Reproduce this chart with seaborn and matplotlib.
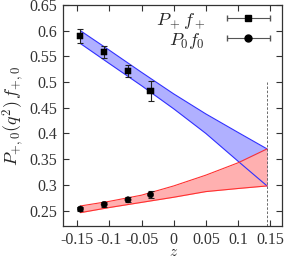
import numpy as np
import pandas as pd
import matplotlib
matplotlib.use("Agg")
import matplotlib.pyplot as plt
from matplotlib.lines import Line2D
from matplotlib.legend_handler import HandlerLine2D, HandlerTuple
import seaborn as sns

## datos
z_pts = [-0.145, -0.108, -0.071, -0.036]
fplus = [0.590, 0.558, 0.521, 0.483]
fplus_err = [0.014, 0.012, 0.012, 0.019]
fzero = [0.253, 0.262, 0.271, 0.281]
fzero_err = [0.004, 0.005, 0.005, 0.007]

z_band = [-0.145, -0.1, -0.05, 0.0, 0.05, 0.1, 0.145]
plus_hi = [0.600, 0.562, 0.519, 0.477, 0.438, 0.402, 0.370]
plus_lo = [0.575, 0.536, 0.493, 0.448, 0.400, 0.346, 0.298]
zero_hi = [0.259, 0.268, 0.280, 0.298, 0.319, 0.343, 0.370]
zero_lo = [0.246, 0.256, 0.266, 0.276, 0.287, 0.293, 0.298]
z_max = 0.145

sns.set_style("ticks")
plt.rcParams['font.family'] = ['Liberation Serif', 'DejaVu Serif']
plt.rcParams['mathtext.fontset'] = 'cm'
plt.rcParams['font.size'] = 12

fig = plt.figure(figsize=(2.85, 2.61), dpi=100)
ax = fig.add_axes([0.221, 0.134, 0.768, 0.847])

# bandas
ax.fill_between(z_band, plus_lo, plus_hi, color='#b0b0ff', lw=0)
ax.plot(z_band, plus_hi, color='#3030ff', lw=0.8)
ax.plot(z_band, plus_lo, color='#3030ff', lw=0.8)
ax.fill_between(z_band, zero_lo, zero_hi, color='#ffb0b0', lw=0)
ax.plot(z_band, zero_hi, color='#ff3030', lw=0.8)
ax.plot(z_band, zero_lo, color='#ff3030', lw=0.8)

ax.vlines(z_max, 0.22, 0.50, colors='#555555', linestyles=(0, (3, 2)), lw=0.6)

# puntos
df = pd.DataFrame({"z": z_pts * 2, "val": fplus + fzero,
                   "serie": ["plus"] * 4 + ["zero"] * 4})
ax.errorbar(z_pts, fplus, yerr=fplus_err, fmt='none', ecolor='#222222', elinewidth=0.8, capsize=2, capthick=0.8)
ax.errorbar(z_pts, fzero, yerr=fzero_err, fmt='none', ecolor='#222222', elinewidth=0.8, capsize=2, capthick=0.8)
sns.scatterplot(data=df, x="z", y="val", style="serie", markers={"plus": "s", "zero": "o"},
                color='black', s=20, edgecolor='black', legend=False, ax=ax, zorder=5)

ax.set_xlim(-0.172, 0.168)
ax.set_ylim(0.22, 0.65)
ax.set_xticks([-0.15, -0.1, -0.05, 0, 0.05, 0.1, 0.15])
ax.set_xticklabels(['-0.15', '-0.1', '-0.05', '0', '0.05', '0.1', '0.15'])
ax.set_yticks([0.25, 0.3, 0.35, 0.4, 0.45, 0.5, 0.55, 0.6, 0.65])
ax.set_yticklabels(['0.25', '0.3', '0.35', '0.4', '0.45', '0.5', '0.55', '0.6', '0.65'])
ax.tick_params(direction='in', top=True, right=True, length=4, width=0.8, pad=4,
               labelsize=11.5, colors='#333333', labelcolor='#333333')
for s in ax.spines.values():
    s.set_color('#333333')
    s.set_linewidth(0.9)

ax.set_xlabel('$z$', fontsize=11, va='center')
ax.xaxis.set_label_coords(0.507, -0.122)
ax.set_ylabel('$P_{+,0}(q^2)\\,f_{+,0}$', fontsize=13)
ax.yaxis.set_label_coords(-0.165, 0.5)

# leyenda estilo gnuplot: barra horizontal con topes
cap1 = Line2D([], [], color='#555555', lw=0.8, marker='|', markersize=5)
cap2 = Line2D([], [], color='#555555', lw=0.8, marker='|', markersize=5)
h1 = Line2D([], [], color='black', lw=0, marker='s', markersize=5)
h2 = Line2D([], [], color='black', lw=0, marker='o', markersize=5)
hm = {cap1: HandlerLine2D(numpoints=2), cap2: HandlerLine2D(numpoints=2),
      h1: HandlerLine2D(numpoints=1), h2: HandlerLine2D(numpoints=1)}
hm[tuple] = HandlerTuple(ndivide=1, pad=0)
ax.legend([(cap1, h1), (cap2, h2)], ['$P_+f_+$', '$P_0f_0$'], loc='upper right', frameon=False,
          markerfirst=False, handlelength=3.0, handletextpad=0.9, labelspacing=0.0,
          borderaxespad=0.15, borderpad=0.2, fontsize=13, handler_map=hm)

fig.savefig("out.png", dpi=100)
